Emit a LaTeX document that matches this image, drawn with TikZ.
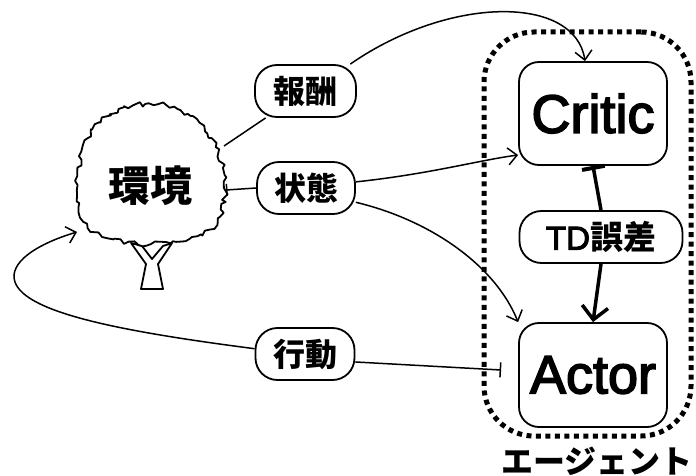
\documentclass[tikz,border=0pt]{standalone}
\usepackage{fontspec}
\usetikzlibrary{arrows.meta,decorations.pathmorphing}
\newfontfamily\jp{Noto Sans CJK JP}
\newfontfamily\lat{Liberation Sans}[FakeBold=3]

\begin{document}
\begin{tikzpicture}[x=1pt,y=-1pt,
  pill/.style={draw, line width=1.8pt, rounded corners=22pt, fill=white,
    minimum height=52pt, inner sep=0pt, font=\jp\bfseries\fontsize{32}{34}\selectfont},
  module/.style={draw, line width=1.8pt, rounded corners=20pt, fill=white,
    minimum width=148pt, minimum height=103pt, inner sep=0pt,
    font=\lat\fontsize{54}{60}\selectfont},
  agentbox/.style={draw, line width=5pt, dash pattern=on 5pt off 4.5pt,
    rounded corners=50pt, minimum width=207pt, minimum height=404pt, inner sep=0pt},
  treeline/.style={line width=1.8pt, line join=round},
  link/.style={line width=1.5pt},
  barb/.style={-{Straight Barb[length=9pt,width=17pt]}},
  heavy/.style={line width=3.5pt},
]
\useasboundingbox[fill=white] (0,0) rectangle (696,476);

% agent frame
\node[agentbox] (agent) at (587.5,234) {};
\node[font=\jp\bfseries\fontsize{32}{36}\selectfont, inner sep=0pt] (agentlabel) at (597,461) {エージェント};

% tree: trunk, then crown on top
\draw[treeline, fill=white] (131,243) -- (146,264) -- (141,289) -- (163,289)
  -- (158,264) -- (172,243) -- (163,246) -- (152,259) -- (142,246) -- cycle;
\pgfmathsetseed{7}
\draw[treeline, fill=white,
  decorate, decoration={random steps, segment length=4pt, amplitude=2.6pt}]
  (145,104) .. controls (192,102) and (225,140) .. (225,190)
  .. controls (225,230) and (200,244) .. (151,244)
  .. controls (100,244) and (77,230) .. (77,190)
  .. controls (77,140) and (100,106) .. cycle;
\node[font=\jp\bfseries\fontsize{42}{44}\selectfont, inner sep=0pt] (env) at (150,186) {環境};
\coordinate (envR) at (224,146);
\coordinate (envS) at (226,190);
\coordinate (envA) at (77,232);

% signals
\node[pill, minimum width=101pt] (reward) at (305.5,91) {報酬};
\node[pill, minimum width=98pt] (state) at (306,188) {状態};
\node[pill, minimum width=99pt] (action) at (305,354) {行動};
\node[pill, minimum width=163pt, font=\jp\bfseries\fontsize{33}{34}\selectfont] (td) at (601,237) {{\lat\mdseries TD}誤差};

% actor-critic modules
\node[module] (critic) at (593,113.5) {Critic};
\node[module, minimum height=104pt] (actor) at (593,375) {Actor};

% reward path
\draw[link] (envR) -- (reward);
\draw[link, barb] (reward.31) .. controls (450,-5) and (575,-5) .. ([xshift=-8pt]critic.north);

% state paths
\draw[link, {Bar[width=12pt]}-] (envS) -- (state.west);
\draw[link, barb] (state.7) .. controls (430,174) and (480,160) .. (critic.209);
\draw[link, barb] (state.-16) .. controls (430,220) and (495,265) .. (actor.north west);

% action path
\draw[link, {Bar[width=15pt]}-] ([xshift=-17pt,yshift=5pt]actor.west) -- (action.-9);
\draw[link, barb] (action.174) .. controls (110,330) and (12,310) .. (14,275)
  .. controls (16,255) and (50,240) .. (envA);

% TD error loop
\draw[heavy, {Bar[width=23pt,line width=4pt]}-] (critic.south) -- (td.north);
\draw[heavy, -{Straight Barb[length=13pt,width=26pt]}] (td.south) -- (actor.north);
\end{tikzpicture}
\end{document}
